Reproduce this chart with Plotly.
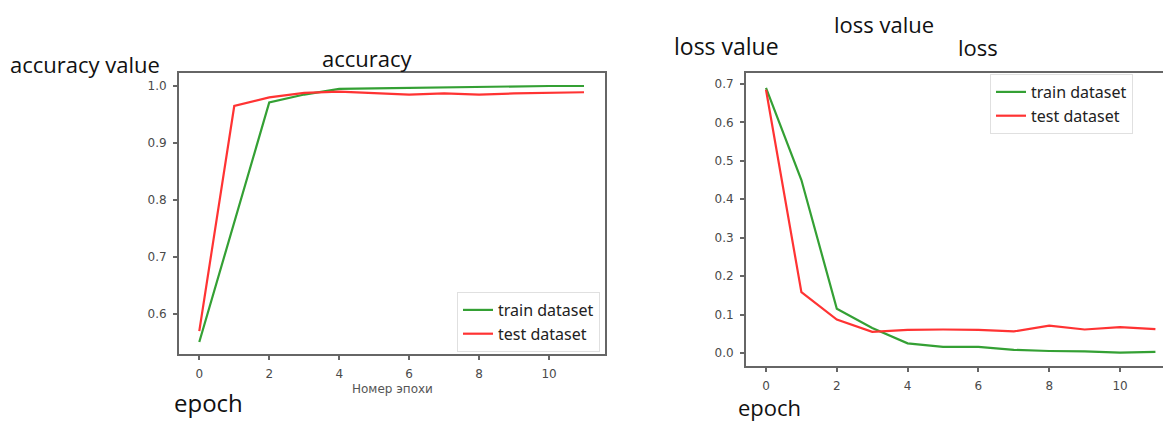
import plotly.graph_objects as go

W, H = 1171, 423
OFF = 8  # page body margin
FW, FH = W - OFF, H - OFF

epochs = list(range(12))
acc_train = [0.551, 0.76, 0.971, 0.985, 0.995, 0.996, 0.997, 0.998, 0.999, 0.999, 1.0, 1.0]
acc_test = [0.57, 0.965, 0.98, 0.988, 0.99, 0.988, 0.985, 0.987, 0.985, 0.987, 0.988, 0.989]
loss_train = [0.69, 0.45, 0.115, 0.065, 0.025, 0.016, 0.016, 0.008, 0.005, 0.004, 0.001, 0.003]
loss_test = [0.685, 0.158, 0.087, 0.055, 0.06, 0.061, 0.06, 0.056, 0.071, 0.061, 0.067, 0.062]
x_ticks = [0, 2, 4, 6, 8, 10]
series_names = ["train dataset", "test dataset"]

GREEN = "#34a034"
RED = "#ff3333"
SPINE = "#666666"


def px(x):
    return (x - OFF) / FW


def py(y):
    return 1 - (y - OFF) / FH


fig = go.Figure()

fig.add_trace(go.Scatter(x=epochs, y=acc_train, mode="lines", name=series_names[0],
                         line=dict(color=GREEN, width=2.2), xaxis="x", yaxis="y", legend="legend"))
fig.add_trace(go.Scatter(x=epochs, y=acc_test, mode="lines", name=series_names[1],
                         line=dict(color=RED, width=2.2), xaxis="x", yaxis="y", legend="legend"))
fig.add_trace(go.Scatter(x=epochs, y=loss_train, mode="lines", name=series_names[0],
                         line=dict(color=GREEN, width=2.2), xaxis="x2", yaxis="y2", legend="legend2"))
fig.add_trace(go.Scatter(x=epochs, y=loss_test, mode="lines", name=series_names[1],
                         line=dict(color=RED, width=2.2), xaxis="x2", yaxis="y2", legend="legend2"))

axis_common = dict(showgrid=False, zeroline=False, showline=True, linecolor=SPINE, linewidth=2,
                   ticks="outside", ticklen=4, tickcolor=SPINE, tickwidth=1.5,
                   ticklabelstandoff=4,
                   tickfont=dict(family="DejaVu Sans", size=12, color="#4a4a4a"))

fig.update_layout(
    width=FW, height=FH,
    margin=dict(l=0, r=0, t=0, b=0),
    paper_bgcolor="white", plot_bgcolor="white",
    xaxis=dict(domain=[px(179), px(605)], range=[-0.58, 11.6], tickvals=x_ticks,
               anchor="y", mirror=True, **axis_common),
    yaxis=dict(domain=[py(354), py(73)], range=[0.53, 1.0228], dtick=0.1, tickformat=".1f",
               anchor="x", mirror=True, **axis_common),
    xaxis2=dict(domain=[px(746), 1.0], range=[-0.565, 11.44], tickvals=x_ticks,
                anchor="y2", mirror=True, **axis_common),
    yaxis2=dict(domain=[py(366), py(73)], range=[-0.034, 0.7287], dtick=0.1, tickformat=".1f",
                anchor="x2", mirror=False, **axis_common),
    legend=dict(x=px(600), y=py(352), xanchor="right", yanchor="bottom",
                bgcolor="white", bordercolor="#e0e0e0", borderwidth=1,
                font=dict(family="Noto Sans", size=16, color="#222222"), tracegroupgap=0),
    legend2=dict(x=px(990), y=py(74), xanchor="left", yanchor="top",
                 bgcolor="white", bordercolor="#e0e0e0", borderwidth=1,
                 font=dict(family="Noto Sans", size=16, color="#222222"), tracegroupgap=0),
    showlegend=True,
)

labels = [
    ("accuracy value", 85, 64, 22, "#111111"),
    ("accuracy", 367, 58, 22, "#111111"),
    ("epoch", 209, 402, 24, "#111111"),
    ("Номер эпохи", 392, 389, 12, "#555555"),
    ("loss value", 726, 46, 23, "#111111"),
    ("loss value", 884, 24, 22, "#111111"),
    ("loss", 978, 47, 22, "#111111"),
    ("epoch", 769, 407, 22, "#111111"),
]
for text, x, y, size, color in labels:
    fam = "DejaVu Sans" if size < 13 else "Open Sans"
    fig.add_annotation(text=text, x=px(x), y=py(y), xref="paper", yref="paper",
                       xanchor="center", yanchor="middle", showarrow=False,
                       font=dict(family=fam, size=size, color=color))

fig.write_html("out.html")
